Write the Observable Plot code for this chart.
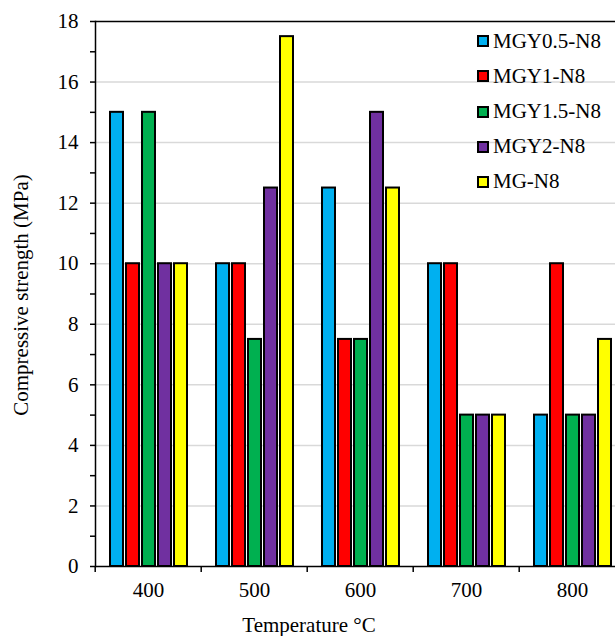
<!DOCTYPE html>
<html><head><meta charset="utf-8">
<script src="https://cdn.jsdelivr.net/npm/d3@7"></script>
<script src="https://cdn.jsdelivr.net/npm/@observablehq/plot@0.6"></script>
<style>
html,body{margin:0;padding:0;overflow:hidden;background:#fff;}
#wrap{position:relative;width:615px;height:636px;overflow:hidden;font-family:"Liberation Serif","Times New Roman",serif;color:#000;}
#chart{position:absolute;left:0;top:0;width:626px;}
#chart svg{max-width:none !important;}
.ylab{position:absolute;left:21px;top:295px;transform:translate(-50%,-50%) rotate(-90deg);white-space:nowrap;font-size:21px;line-height:1;}
.xlab{position:absolute;left:309px;top:615px;transform:translateX(-50%);white-space:nowrap;font-size:21px;line-height:1;}
.leg{position:absolute;left:477px;display:flex;align-items:center;height:21px;font-size:21px;line-height:1;white-space:nowrap;}
.leg .sw{width:8px;height:8px;border:2px solid #000;margin-right:4px;}
</style></head><body>
<div id="wrap"><div id="chart"></div></div>
<script>
const temps = [400, 500, 600, 700, 800];
const seriesNames = ["MGY0.5-N8", "MGY1-N8", "MGY1.5-N8", "MGY2-N8", "MG-N8"];
const seriesColors = ["#00b0f0", "#ff0000", "#00b050", "#7030a0", "#ffff00"];
const valsMGY05 = [15, 10, 12.5, 10, 5];
const valsMGY1 = [10, 10, 7.5, 10, 10];
const valsMGY15 = [15, 7.5, 7.5, 5, 5];
const valsMGY2 = [10, 12.5, 15, 5, 5];
const valsMG = [10, 17.5, 12.5, 5, 7.5];
const yTicks = [0, 2, 4, 6, 8, 10, 12, 14, 16, 18];
const yMinorTicks = [1, 3, 5, 7, 9, 11, 13, 15, 17];
const gridValues = [2, 4, 6, 8, 10, 12, 14, 16];
const yLabel = "Compressive strength (MPa)";
const xLabel = "Temperature °C";

const allVals = [valsMGY05, valsMGY1, valsMGY15, valsMGY2, valsMG];
const data = [];
seriesNames.forEach((s, i) => temps.forEach((t, j) => data.push({temp: t, series: s, value: allVals[i][j]})));

const FONT = "Liberation Serif";
const chart = Plot.plot({
  width: 626, height: 636,
  marginLeft: 93, marginRight: 0, marginTop: 21, marginBottom: 70,
  style: {fontFamily: FONT, fontSize: "21px", color: "#000", background: "transparent", overflow: "visible", maxWidth: "none"},
  fx: {domain: temps, padding: 0, label: null},
  x: {domain: seriesNames, paddingInner: 0.2, paddingOuter: 0.85, axis: null},
  y: {domain: [0, 18], label: null},
  color: {domain: seriesNames, range: seriesColors},
  marks: [
    Plot.gridY(gridValues, {stroke: "#d9d9d9", strokeOpacity: 1, strokeWidth: 1.5}),
    Plot.barY(data, {fx: "temp", x: "series", y: "value", fill: "series", stroke: "#000", strokeWidth: 2}),
    Plot.ruleY([0], {stroke: "#000", strokeWidth: 1.5}),
    Plot.ruleY([18], {stroke: "#000", strokeWidth: 1.5}),
    Plot.frame({anchor: "left", facetAnchor: "left", stroke: "#000", strokeWidth: 1.5}),
    Plot.axisY(yTicks, {tickSize: 5, tickPadding: 12, label: null, strokeWidth: 1.5, fill: "#000", fontFamily: FONT, fontSize: 21}),
    Plot.axisY(yMinorTicks, {tickSize: 5, tickFormat: () => "", label: null, strokeWidth: 1.5}),
    Plot.axisFx({anchor: "bottom", tickSize: 0, tickPadding: 16, label: null, fill: "#000", fontFamily: FONT, fontSize: 21}),
    Plot.axisFx({anchor: "bottom", tickSize: 6, tickFormat: () => "", dx: -53.3, label: null, strokeWidth: 1.5})
  ]
});
document.getElementById("chart").appendChild(chart);

const wrap = document.getElementById("wrap");
const yl = document.createElement("div"); yl.className = "ylab"; yl.textContent = yLabel; wrap.appendChild(yl);
const xl = document.createElement("div"); xl.className = "xlab"; xl.textContent = xLabel; wrap.appendChild(xl);
const legTops = [30.5, 65.5, 101, 136, 171];
seriesNames.forEach((s, i) => {
  const d = document.createElement("div"); d.className = "leg"; d.style.top = legTops[i] + "px";
  const sw = document.createElement("span"); sw.className = "sw"; sw.style.background = seriesColors[i];
  const tx = document.createElement("span"); tx.textContent = s;
  d.appendChild(sw); d.appendChild(tx); wrap.appendChild(d);
});
</script>
</body></html>
